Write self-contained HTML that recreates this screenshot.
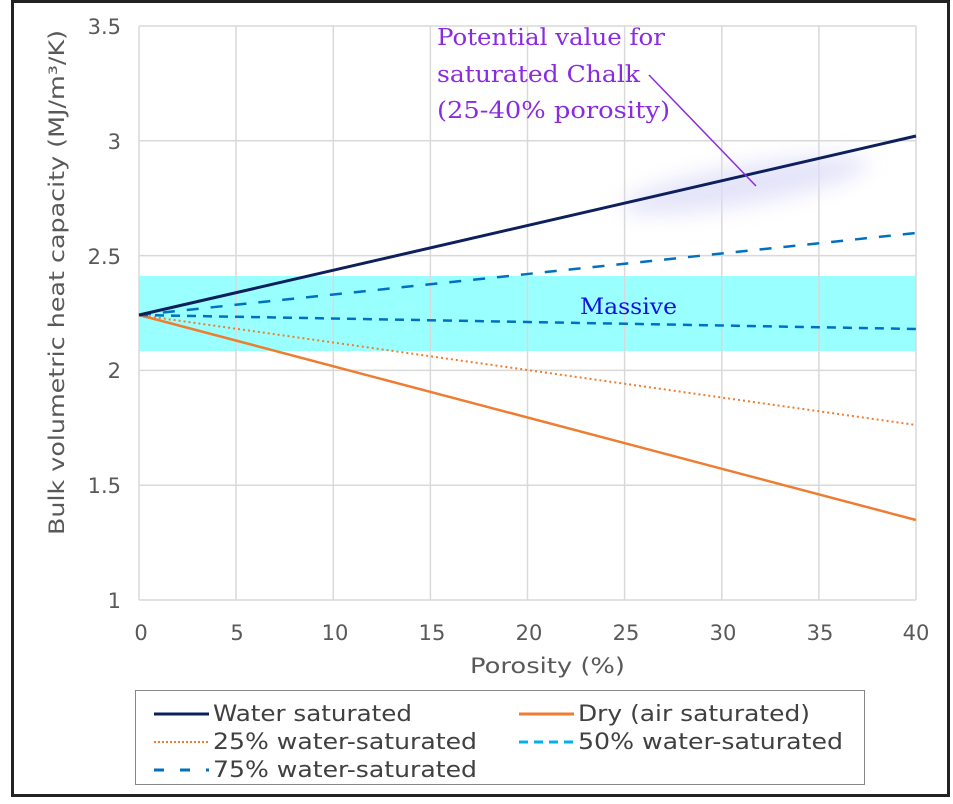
<!DOCTYPE html>
<html><head><style>
body{margin:0;background:#fff;}
svg text{font-family:"DejaVu Sans","Liberation Sans",sans-serif;}
svg text.s{font-family:"DejaVu Serif","Liberation Serif",serif;}
</style></head><body>
<svg width="953" height="799" xmlns="http://www.w3.org/2000/svg">
<defs><filter id="b" x="-50%" y="-200%" width="200%" height="500%"><feGaussianBlur stdDeviation="10"/></filter></defs>
<rect x="0" y="0" width="953" height="799" fill="#fff"/>
<rect x="12.5" y="1.5" width="936" height="794" fill="none" stroke="#222" stroke-width="3"/>
<rect x="139" y="276" width="777" height="75" fill="#99ffff"/>
<g stroke="#d9d9d9" stroke-width="1.5">
<line x1="139" y1="26" x2="916" y2="26"/><line x1="139" y1="140.8" x2="916" y2="140.8"/><line x1="139" y1="255.6" x2="916" y2="255.6"/><line x1="139" y1="370.4" x2="916" y2="370.4"/><line x1="139" y1="485.2" x2="916" y2="485.2"/><line x1="139" y1="600" x2="916" y2="600"/>
<line x1="139" y1="26" x2="139" y2="600"/><line x1="236" y1="26" x2="236" y2="600"/><line x1="333.3" y1="26" x2="333.3" y2="600"/><line x1="430.4" y1="26" x2="430.4" y2="600"/><line x1="527.5" y1="26" x2="527.5" y2="600"/><line x1="624.6" y1="26" x2="624.6" y2="600"/><line x1="721.8" y1="26" x2="721.8" y2="600"/><line x1="818.9" y1="26" x2="818.9" y2="600"/><line x1="916" y1="26" x2="916" y2="600"/>
</g>
<ellipse cx="745" cy="185" rx="125" ry="20" fill="#dcdcf8" opacity="0.75" transform="rotate(-10 745 185)" filter="url(#b)"/>
<line x1="139" y1="315" x2="916" y2="520" stroke="#ed7d31" stroke-width="2.5"/>
<line x1="139" y1="315" x2="916" y2="425" stroke="#ed7d31" stroke-width="2" stroke-dasharray="2,3"/>
<line x1="139" y1="315" x2="916" y2="329" stroke="#0070c0" stroke-width="2.5" stroke-dasharray="9,7"/>
<line x1="139" y1="315" x2="916" y2="233" stroke="#0070c0" stroke-width="2.5" stroke-dasharray="12,12"/>
<line x1="139" y1="315" x2="916" y2="136" stroke="#0d1f5c" stroke-width="3"/>
<line x1="649" y1="75" x2="756" y2="186" stroke="#8a2be2" stroke-width="1.5"/>
<g fill="#8a2be2" font-size="23">
<text class="s" x="437" y="45" textLength="228" lengthAdjust="spacingAndGlyphs">Potential value for</text>
<text class="s" x="437" y="82" textLength="203" lengthAdjust="spacingAndGlyphs">saturated Chalk</text>
<text class="s" x="437" y="118" textLength="233" lengthAdjust="spacingAndGlyphs">(25-40% porosity)</text>
</g>
<text class="s" x="580" y="314" font-size="22" fill="#1010dd" textLength="97" lengthAdjust="spacingAndGlyphs">Massive</text>
<g font-size="21" fill="#595959" text-anchor="end">
<text x="121" y="34">3.5</text><text x="121" y="149">3</text><text x="121" y="264">2.5</text><text x="121" y="378">2</text><text x="121" y="493">1.5</text><text x="121" y="608">1</text>
</g>
<g font-size="21" fill="#595959" text-anchor="middle">
<text x="141" y="640">0</text><text x="237" y="640">5</text><text x="335" y="640">10</text><text x="432" y="640">15</text><text x="529" y="640">20</text><text x="626" y="640">25</text><text x="723" y="640">30</text><text x="820" y="640">35</text><text x="916" y="640">40</text>
</g>
<text x="470" y="673" font-size="21" fill="#595959" textLength="155" lengthAdjust="spacingAndGlyphs">Porosity (%)</text>
<text transform="translate(64 535) rotate(-90)" font-size="21" fill="#595959" textLength="505" lengthAdjust="spacingAndGlyphs">Bulk volumetric heat capacity (MJ/m³/K)</text>
<rect x="135.5" y="690.5" width="729" height="94" fill="#fff" stroke="#888" stroke-width="1"/>
<g font-size="22" fill="#404040">
<line x1="154" y1="714" x2="209" y2="714" stroke="#0d1f5c" stroke-width="3"/><text x="213" y="721" textLength="199" lengthAdjust="spacingAndGlyphs">Water saturated</text>
<line x1="519" y1="714" x2="574" y2="714" stroke="#ed7d31" stroke-width="3"/><text x="578" y="721" textLength="232" lengthAdjust="spacingAndGlyphs">Dry (air saturated)</text>
<line x1="154" y1="742" x2="209" y2="742" stroke="#ed7d31" stroke-width="2" stroke-dasharray="2,2"/><text x="213" y="749" textLength="264" lengthAdjust="spacingAndGlyphs">25% water-saturated</text>
<line x1="519" y1="742" x2="574" y2="742" stroke="#00b0f0" stroke-width="3" stroke-dasharray="9,6"/><text x="578" y="749" textLength="265" lengthAdjust="spacingAndGlyphs">50% water-saturated</text>
<line x1="154" y1="770" x2="209" y2="770" stroke="#0070c0" stroke-width="3" stroke-dasharray="10,16"/><text x="213" y="777" textLength="264" lengthAdjust="spacingAndGlyphs">75% water-saturated</text>
</g>
</svg>
</body></html>
